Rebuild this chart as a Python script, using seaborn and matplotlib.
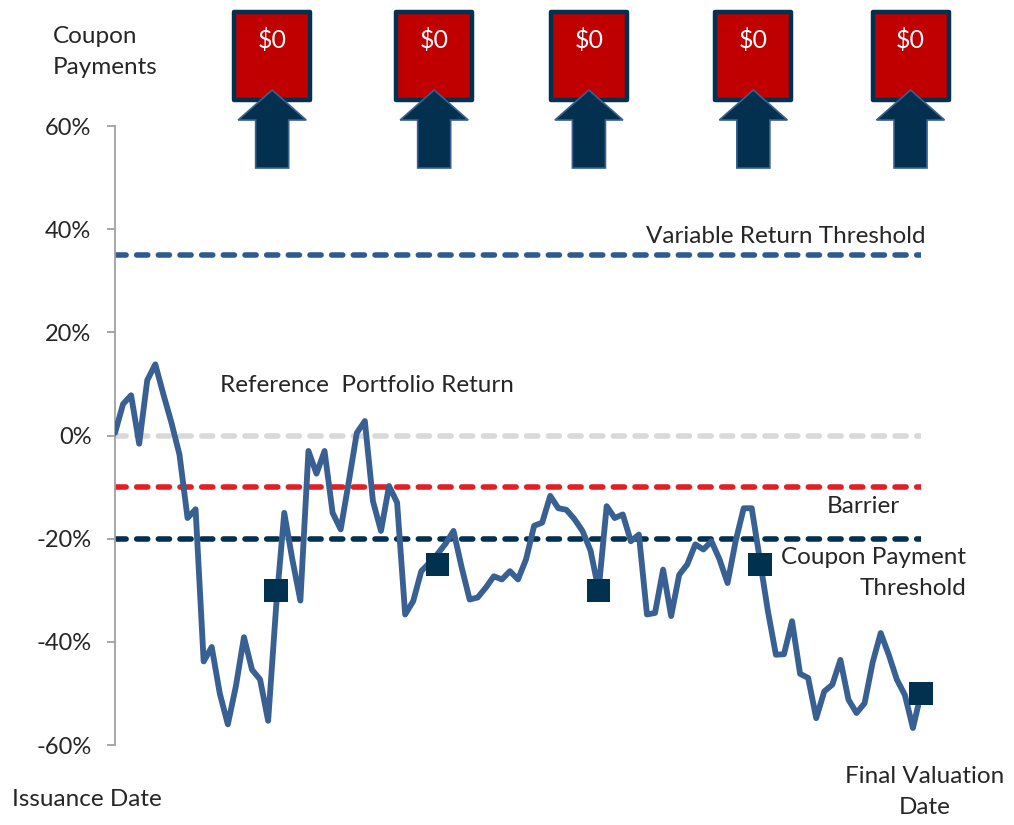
import matplotlib
matplotlib.use("Agg")
import matplotlib.pyplot as plt
import seaborn as sns
import pandas as pd
from matplotlib.patches import Rectangle, Polygon

# reference portfolio return, one value per step (20 steps between coupon dates)
returns = [
    0.5, 6.1, 7.8, -1.6, 10.7, 13.8, 8.0, 2.5, -3.7, -16.0,
    -14.3, -43.8, -41.0, -50.0, -56.0, -48.6, -39.1, -45.4, -47.3, -55.3,
    -33.0, -15.0, -24.0, -32.0, -3.0, -7.4, -3.0, -15.0, -18.2, -9.0,
    0.5, 2.8, -12.7, -18.5, -9.8, -13.0, -34.7, -32.1, -26.3, -24.7,
    -23.0, -21.0, -18.5, -25.5, -31.8, -31.4, -29.5, -27.3, -27.9, -26.3,
    -27.9, -24.0, -17.5, -16.9, -11.7, -14.1, -14.4, -16.2, -18.5, -22.3,
    -30.0, -13.7, -16.0, -15.3, -20.5, -19.2, -34.7, -34.4, -26.0, -35.0,
    -27.0, -25.0, -21.1, -22.1, -20.5, -24.0, -28.6, -20.5, -14.1, -14.1,
    -24.0, -34.0, -42.5, -42.4, -36.0, -46.2, -47.0, -54.8, -49.6, -48.3,
    -43.5, -51.2, -53.8, -51.9, -44.0, -38.3, -42.5, -47.3, -50.3, -56.7,
    -50.0,
]
steps = list(range(len(returns)))

# observation dates and observed returns
obs_steps = [20, 40, 60, 80, 100]
obs_returns = [-30, -25, -30, -25, -50]

# coupon boxes at the top
coupon_steps = [19.5, 39.6, 58.8, 79.2, 98.7]
coupon_labels = ["$0", "$0", "$0", "$0", "$0"]

# threshold levels
threshold_levels = [35, 0, -10, -20]
threshold_colors = ["#2F5A8E", "#D9D9D9", "#E31E24", "#02304E"]

y_ticks = [-60, -40, -20, 0, 20, 40, 60]

sns.set_style("white")
plt.rcParams["font.family"] = ["Lato", "DejaVu Sans"]
plt.rcParams["font.size"] = 17.5

fig = plt.figure(figsize=(10.14, 8.25), dpi=100)
ax = fig.add_axes([115 / 1014, 1 - 745 / 825, 806 / 1014, 619 / 825])
top = fig.add_axes([115 / 1014, 1 - 175 / 825, 806 / 1014, 175 / 825])

for level, color in zip(threshold_levels, threshold_colors):
    ax.hlines(level, 0, 100, color=color, linewidth=4,
              linestyles=(0, (2.0, 1.9)), capstyle="round", zorder=2)
for coll in ax.collections:
    coll.set_capstyle("round")

df = pd.DataFrame({"step": steps, "ret": returns})
sns.lineplot(data=df, x="step", y="ret", ax=ax, color="#386092",
             linewidth=4.2, zorder=3)
for line in ax.lines:
    line.set_solid_joinstyle("round")
    line.set_solid_capstyle("round")

obs = pd.DataFrame({"step": obs_steps, "ret": obs_returns})
sns.scatterplot(data=obs, x="step", y="ret", ax=ax, marker="s", s=285,
                color="#003250", edgecolor="none", zorder=4, clip_on=False)

ax.set_xlim(0, 100)
ax.set_ylim(-60, 60)
ax.set_yticks(y_ticks)
ax.set_yticklabels([f"{t}%" for t in y_ticks])
ax.set_xticks([])
ax.set_xlabel("")
ax.set_ylabel("")
for side in ["top", "right", "bottom"]:
    ax.spines[side].set_visible(False)
ax.spines["left"].set_color("#A0A0A0")
ax.spines["left"].set_linewidth(1.3)
ax.tick_params(axis="y", direction="out", length=6, width=1.3, color="#A0A0A0",
               pad=11, labelsize=17, left=True)
ax.patch.set_alpha(0)

ax.text(100.5, 38.5, "Variable Return Threshold", ha="right", va="center")
ax.text(13, 9.6, "Reference  Portfolio Return", ha="left", va="center")
ax.text(97.4, -13.7, "Barrier", ha="right", va="center")
ax.text(105.6, -26.7, "Coupon Payment\nThreshold", ha="right", va="center",
        multialignment="right", linespacing=1.6)

# coupon payment boxes with arrows
top.set_xlim(0, 100)
top.set_ylim(175, 0)
top.axis("off")
px = 8.06
for cx, lab in zip(coupon_steps, coupon_labels):
    top.add_patch(Rectangle((cx - 38 / px, 12), 76 / px, 88, facecolor="#C00000",
                            edgecolor="#03304F", linewidth=3.2, joinstyle="round",
                            clip_on=False))
    top.text(cx, 40, lab.replace("$", r"\$"), color="white", ha="center",
             va="center", fontsize=18, clip_on=False)
    arrow = [(cx, 90), (cx + 34 / px, 120), (cx + 16.5 / px, 120), (cx + 16.5 / px, 168),
             (cx - 16.5 / px, 168), (cx - 16.5 / px, 120), (cx - 34 / px, 120)]
    top.add_patch(Polygon(arrow, closed=True, facecolor="#03304F",
                          edgecolor="#3A5F8F", linewidth=1.2, clip_on=False))

fig.text(53 / 1014, 1 - 52 / 825, "Coupon\nPayments", ha="left", va="center",
         linespacing=1.6)
fig.text(12 / 1014, 1 - 800 / 825, "Issuance Date", ha="left", va="center")
fig.text(925 / 1014, 1 - 792 / 825, "Final Valuation\nDate", ha="center",
         va="center", linespacing=1.6)

fig.savefig("out.png", dpi=100)
